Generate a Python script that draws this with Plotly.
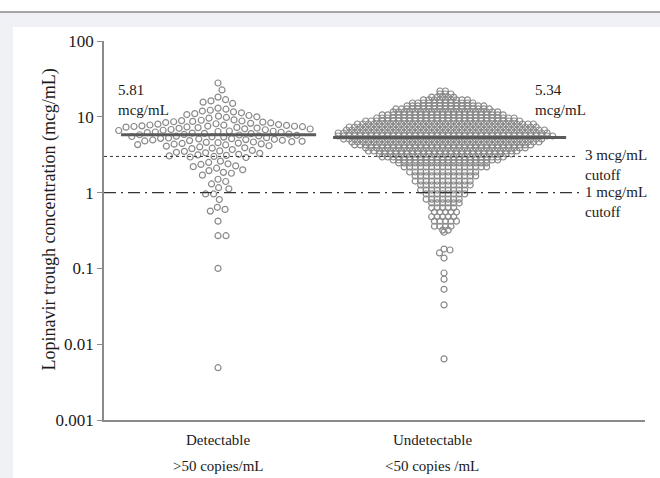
import numpy as np
import plotly.graph_objects as go

# ---- data -------------------------------------------------------------
groups = ["Detectable", "Undetectable"]
group_sub = [">50 copies/mL", "<50 copies /mL"]
medians = [5.81, 5.34]
cutoffs = [3, 1]
cutoff_labels = ["3 mcg/mL<br>cutoff", "1 mcg/mL<br>cutoff"]
y_tickvals = [0.001, 0.01, 0.1, 1, 10, 100]
y_ticktext = ["0.001", "0.01", "0.1", "1", "10", "100"]

# trough concentrations, viral load detectable (mcg/mL)
detectable = [
    27.9, 22.6, 18.2, 16.8, 16.2, 15.6, 15.0,
    13.0, 12.6, 12.2, 11.9, 11.6, 11.3, 11.0, 10.7, 10.4, 10.2, 10.0, 9.8, 9.6,
    9.1, 9.0, 8.9, 8.8, 8.7, 8.6, 8.5, 8.4, 8.3, 8.2, 8.1, 8.0, 7.9, 7.8, 7.75,
    7.7, 7.6, 7.55, 7.5, 7.45, 7.4, 7.35, 7.3, 7.25,
    7.2, 7.1, 7.05, 6.95, 6.9, 6.8, 6.75, 6.65, 6.6, 6.5, 6.45, 6.4, 6.3, 6.25,
    6.2, 6.1, 6.05, 6.0, 5.9, 5.85, 5.8, 5.75, 5.7, 5.6, 5.55, 5.5, 5.45, 5.4,
    5.3, 5.25, 5.2, 5.15, 5.1, 5.05, 5.0, 4.95, 4.9, 4.85, 4.8, 4.75, 4.7, 4.65,
    4.6, 4.55, 4.5, 4.45, 4.4, 4.35, 4.3, 4.25,
    4.15, 4.1, 4.0, 3.9, 3.85, 3.8, 3.7, 3.6, 3.55, 3.5, 3.4, 3.35, 3.3, 3.2,
    3.15, 3.1, 3.05, 3.0, 2.95, 2.9,
    2.6, 2.5, 2.4, 2.35, 2.25, 2.2, 2.1, 2.0, 1.95, 1.85, 1.8, 1.7,
    1.5, 1.4, 1.3,
    1.16, 1.12, 0.96, 0.96, 0.81, 0.64, 0.60, 0.57, 0.42, 0.27, 0.27, 0.10, 0.0049,
]

# viral load undetectable: concentration levels and number of patients at each
undetect_levels = [
    21.9, 20.0, 18.2, 16.7, 15.2, 13.9, 12.7, 11.6, 10.6, 9.64,
    8.80, 8.04, 7.34, 6.70, 6.11, 5.58, 5.09, 4.65, 4.25, 3.88,
    3.54, 3.23, 2.95, 2.69, 2.46, 2.18, 1.87, 1.66, 1.42, 1.26,
    1.08, 0.96, 0.82, 0.73, 0.63, 0.555, 0.48, 0.42, 0.36, 0.32,
]
undetect_counts = [
    2, 3, 5, 9, 12, 15, 18, 20, 23, 26,
    29, 33, 35, 37, 39, 40, 37, 35, 33, 30,
    28, 25, 23, 20, 17, 16, 13, 12, 11, 10,
    9, 8, 7, 6, 5, 5, 5, 5, 4, 2,
]
undetect_tail = [0.30, 0.18, 0.175, 0.16, 0.137, 0.087, 0.072, 0.053, 0.033, 0.0064]

# ---- geometry helpers (pixel space -> data units) ---------------------
PX_PER_DECADE = 75.8
PX_PER_UNIT_X = 226.0
GRAY = "#8a8a8a"
INK = "#1a1a1a"
FONT = "Liberation Serif"


def swarm(vals, d):
    """Greedy beeswarm: horizontal pixel offsets so no two markers are closer than d."""
    ys = np.log10(np.asarray(vals, float)) * PX_PER_DECADE
    order = np.argsort(-ys)
    placed = []
    xs = np.zeros(len(ys))
    for i in order:
        y = ys[i]
        cands = [0.0]
        for px, py in placed:
            dy = abs(y - py)
            if dy < d:
                dx = np.sqrt(d * d - dy * dy)
                cands += [px + dx, px - dx]
        cands.sort(key=abs)
        best = cands[-1]
        for c in cands:
            if all((c - px) ** 2 + (y - py) ** 2 >= d * d - 1e-6 for px, py in placed):
                best = c
                break
        placed.append((best, y))
        xs[i] = best
    return xs


def rows_layout(levels, counts, spacing):
    """Dense rows: each level spread symmetrically, alternate rows half-shifted."""
    xs, ys = [], []
    for r, (lv, n) in enumerate(zip(levels, counts)):
        shift = spacing / 4 * (1 if r % 2 else -1)
        offs = (np.arange(n) - (n - 1) / 2) * spacing + shift
        xs.extend(offs)
        ys.extend([lv] * n)
    return np.array(xs), np.array(ys)


det_x = 0 + swarm(detectable, 8.0) / PX_PER_UNIT_X
cloud_dx, cloud_y = rows_layout(undetect_levels, undetect_counts, 5.5)
tail_dx = swarm(undetect_tail, 6.0)
und_x = 1 + np.concatenate([cloud_dx, tail_dx]) / PX_PER_UNIT_X
und_y = np.concatenate([cloud_y, undetect_tail])

marker = dict(symbol="circle-open", size=6, color=GRAY, line=dict(width=1.2, color=GRAY))

fig = go.Figure()
fig.add_trace(go.Scatter(x=det_x, y=detectable, mode="markers", marker=marker,
                         name=groups[0], hoverinfo="y"))
fig.add_trace(go.Scatter(x=und_x, y=und_y, mode="markers", marker=marker,
                         name=groups[1], hoverinfo="y"))

x_lo = -0.5044
x_hi = 1.889

# cutoff reference lines
cut_styles = [dict(dash="3px,3px", width=1, color="#333333", end=1.58),
              dict(dash="12px,5px,2px,5px", width=1.2, color="#333333", end=1.60)]
for c, lab, st in zip(cutoffs, cutoff_labels, cut_styles):
    fig.add_shape(type="line", xref="x", yref="y", x0=x_lo, x1=st["end"], y0=c, y1=c,
                  line=dict(color=st["color"], width=st["width"], dash=st["dash"]))
    fig.add_annotation(x=1.615, y=np.log10(c), xref="x", yref="y", text=lab,
                       showarrow=False, xanchor="left", yanchor="top", yshift=11,
                       align="left", font=dict(family=FONT, size=15, color=INK))

# median bars with value labels
med_spans = [(-0.429, 0.434), (-0.491, 0.540)]
label_pos = [dict(x=-0.451, yshift=15), dict(x=1.394, yshift=17)]
for gi, (m, (a, b), lp) in enumerate(zip(medians, med_spans, label_pos)):
    fig.add_shape(type="line", xref="x", yref="y", x0=gi + a, x1=gi + b, y0=m, y1=m,
                  line=dict(color="#5a5a5a", width=3))
    fig.add_annotation(x=lp["x"], y=np.log10(m), xref="x", yref="y",
                       text=f"{m:.2f}<br>mcg/mL", showarrow=False,
                       xanchor="left", yanchor="bottom", yshift=lp["yshift"],
                       align="left", font=dict(family=FONT, size=15, color=INK))

# category labels under the axis
cat_shift = [0, -12]
for gi, (g, s, xs_) in enumerate(zip(groups, group_sub, cat_shift)):
    fig.add_annotation(x=gi, y=-0.0528, xref="x", yref="paper", text=g, showarrow=False,
                       xshift=xs_, yanchor="middle",
                       font=dict(family=FONT, size=15, color=INK))
    fig.add_annotation(x=gi, y=-0.121, xref="x", yref="paper", text=s, showarrow=False,
                       xshift=xs_, yanchor="middle",
                       font=dict(family=FONT, size=15, color=INK))

# y-axis title
fig.add_annotation(x=-0.124, y=0.53, xref="paper", yref="paper",
                   text="Lopinavir trough concentration (mcg/mL)", textangle=-90,
                   showarrow=False, font=dict(family=FONT, size=18, color=INK))

# page frame: top rule, light band and left strip
BAND = "#f0f1f6"
fig.add_shape(type="rect", xref="paper", yref="paper", x0=-0.1923, x1=1.028,
              y0=1.0369, y1=1.0765, fillcolor=BAND, line_width=0, layer="below")
fig.add_shape(type="rect", xref="paper", yref="paper", x0=-0.1923, x1=-0.1682,
              y0=-0.1531, y1=1.0369, fillcolor=BAND, line_width=0, layer="below")
fig.add_shape(type="line", xref="paper", yref="paper", x0=-0.1923, x1=1.028,
              y0=1.0765, y1=1.0765, line=dict(color="#8a8a8a", width=1.5), layer="below")

fig.update_layout(
    width=660, height=478,
    margin=dict(l=104, r=15, t=41, b=58),
    paper_bgcolor="white", plot_bgcolor="white",
    showlegend=False,
    font=dict(family=FONT, size=15, color=INK),
    xaxis=dict(range=[x_lo, x_hi], showgrid=False, zeroline=False, showticklabels=False,
               ticks="", showline=True, linecolor="#8a8a8a", linewidth=1.5),
    yaxis=dict(type="log", range=[-3, 2], tickvals=y_tickvals, ticktext=y_ticktext,
               showgrid=False, zeroline=False, showline=True, linecolor="#8a8a8a",
               linewidth=1.5, ticks="outside", ticklen=5, tickcolor="#8a8a8a",
               tickfont=dict(family=FONT, size=17, color=INK)),
)

fig.write_html("out.html")
